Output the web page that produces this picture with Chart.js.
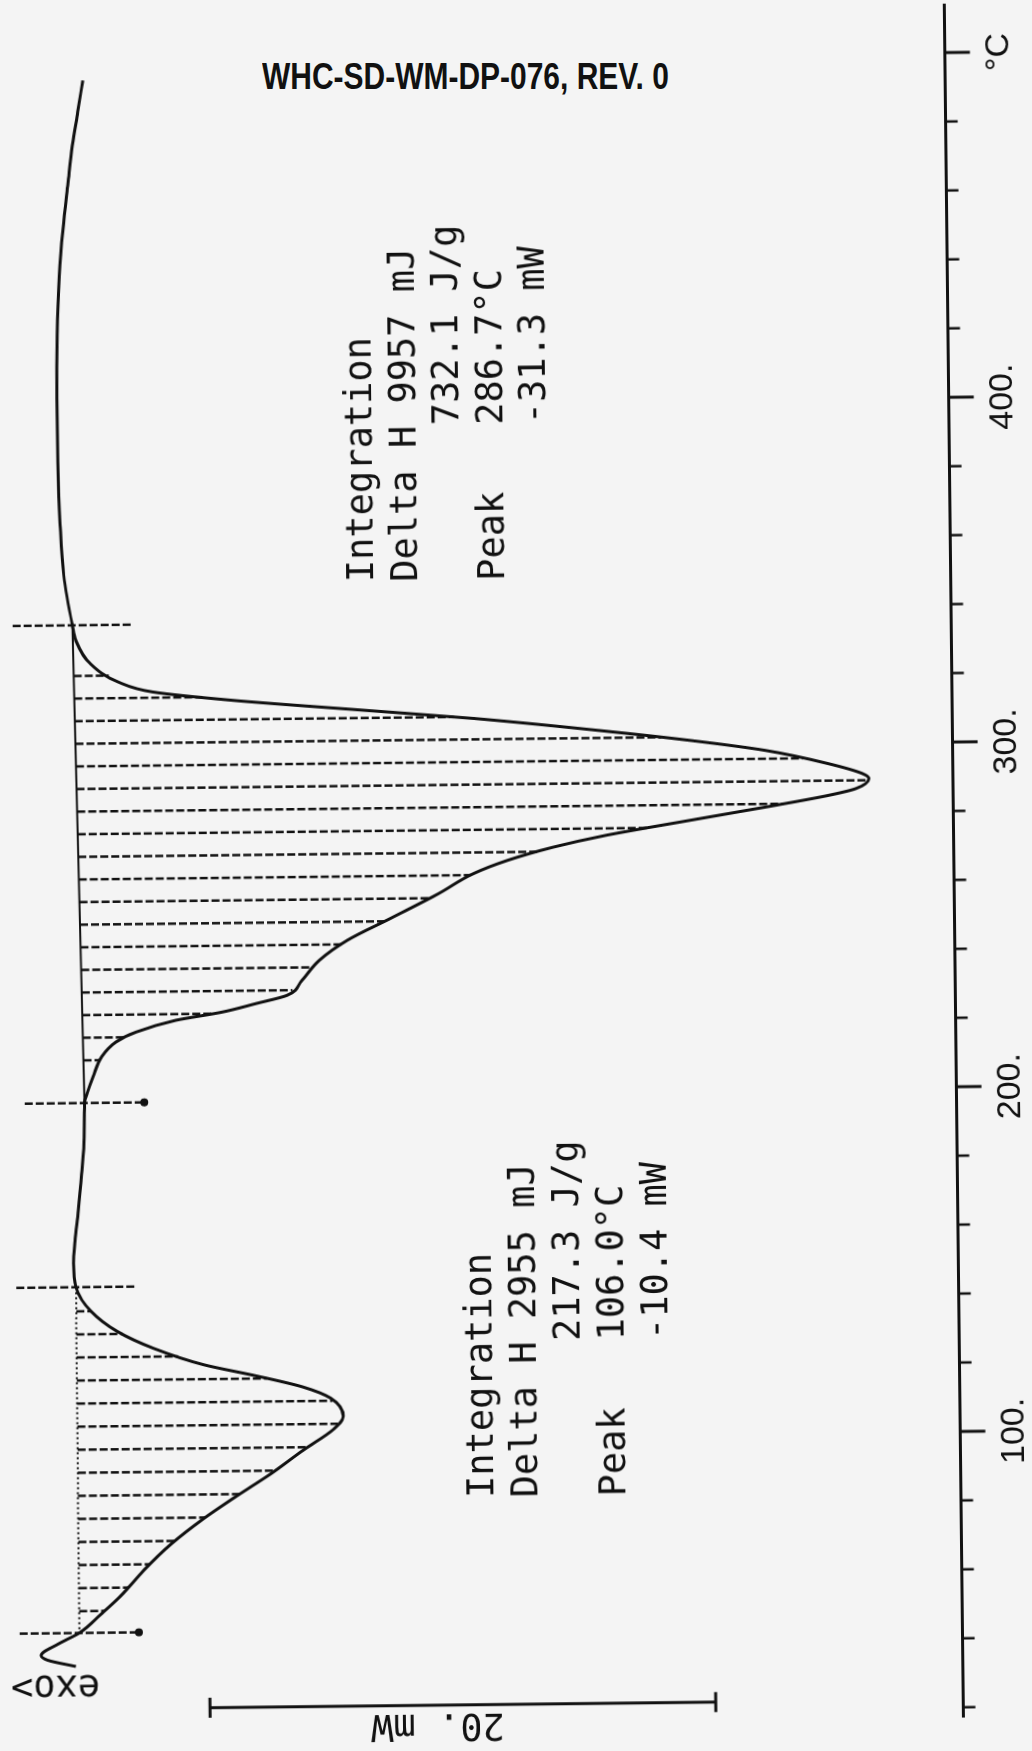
<!DOCTYPE html>
<html>
<head>
<meta charset="utf-8">
<script src="https://cdn.jsdelivr.net/npm/chart.js@4.4.0/dist/chart.umd.min.js"></script>
<style>
  html, body { margin: 0; padding: 0; background: #f4f4f4; }
  body { width: 1032px; height: 1751px; position: relative; overflow: hidden; }
  #header {
    position: absolute; left: 262px; top: 58px;
    font: bold 37px "Liberation Sans", Arial, sans-serif; line-height: 1;
    color: #111; white-space: nowrap;
    transform: scaleX(0.81); transform-origin: left top;
  }
  /* the plot is drawn landscape and turned a quarter turn, like the scanned page */
  #wrap {
    position: absolute; width: 1751px; height: 1032px;
    left: -359.5px; top: 359.5px;
    transform: rotate(-90.64deg); transform-origin: center center;
  }
</style>
</head>
<body>
<div id="header">WHC-SD-WM-DP-076, REV. 0</div>
<div id="wrap"><canvas id="dsc" width="1751" height="1032"></canvas></div>
<script>
// DSC trace: temperature (°C) and heat flow (mW, endotherm negative)
const tempC = [34.7, 36.6, 38.0, 41.2, 44.4, 49.7, 55.0, 62.4, 69.8, 77.2,
  83.6, 89.9, 96.8, 102.6, 106.4, 111.7, 115.0, 118.4, 121.8, 126.7,
  131.8, 137.7, 144.7, 151.7, 158.1, 166.7, 177.4, 188.1, 198.1, 201.0,
  205.7, 211.5, 215.7, 218.5, 221.8, 224.0, 226.4, 228.7, 232.9, 238.7,
  244.4, 251.0, 257.7, 263.4, 267.1, 270.8, 274.0, 277.6, 281.7, 284.9,
  286.8, 289.7, 291.2, 294.2, 298.2, 301.3, 304.5, 308.4, 311.1, 314.4,
  317.1, 320.0, 325.6, 332.3, 336.7, 351.3, 366.0, 384.3, 402.6, 420.9,
  438.0, 451.5, 464.9, 475.9, 485.6, 494.7];
const heatFlowMW = [0.28, 1.39, 1.65, 0.99, 0.13, -0.72, -1.52, -2.45, -3.52, -4.84,
  -6.15, -7.50, -8.82, -10.00, -10.40, -9.91, -8.83, -6.98, -4.91, -2.94,
  -1.49, -0.47, 0.11, 0.20, 0.13, -0.01, -0.16, -0.28, -0.31, -0.42,
  -0.66, -1.01, -1.58, -2.37, -3.95, -5.77, -7.13, -8.37, -8.95, -9.65,
  -10.76, -12.58, -14.40, -15.79, -17.13, -18.95, -21.00, -23.92, -27.33, -29.84,
  -30.94, -31.46, -31.19, -29.83, -27.36, -24.43, -20.81, -15.85, -11.57, -6.37,
  -3.19, -1.86, -0.72, -0.17, -0.04, 0.28, 0.40, 0.46, 0.47, 0.43,
  0.32, 0.16, -0.06, -0.25, -0.48, -0.69];

// integration limits and hatching, first peak then second peak
const peakStartC = [144.7, 336.7];
const peakEndC = [44.4, 198.1];
const hatchFirstC = [137.7, 322.0];
const hatchStepC = [6.69, 6.56];
const hatchCount = [14, 18];

// 20 mW scale bar
const scaleBarC = 22.3;
const scaleBarMW = [-5, -25];

// temperature axis
const tempTicks = [20, 40, 60, 80, 100, 120, 140, 160, 180, 200, 220, 240, 260,
  280, 300, 320, 340, 360, 380, 400, 420, 440, 460, 480, 500];
const majorTicks = [100, 200, 300, 400, 500];
const majorLabels = ['100.', '200.', '300.', '400.', '°C'];

const peak1Notes = ['Integration', 'Delta H 2955 mJ', '       217.3 J/g', 'Peak   106.0°C', '       -10.4 mW'];
const peak2Notes = ['Integration', 'Delta H 9957 mJ', '       732.1 J/g', 'Peak   286.7°C', '       -31.3 mW'];

const ink = '#111';
const mono = '37px "DejaVu Sans Mono", "Liberation Mono", monospace';

function flowAt(t) {
  for (let i = 1; i < tempC.length; i++) {
    if (t <= tempC[i]) {
      const f = (t - tempC[i - 1]) / (tempC[i] - tempC[i - 1]);
      return heatFlowMW[i - 1] + f * (heatFlowMW[i] - heatFlowMW[i - 1]);
    }
  }
  return heatFlowMW[heatFlowMW.length - 1];
}

function seg(points, extra) {
  return Object.assign({
    data: points, showLine: true, borderColor: ink, borderWidth: 2.5,
    pointRadius: 0, fill: false
  }, extra || {});
}

const datasets = [{
  label: 'DSC',
  data: tempC.map((t, i) => ({ x: t, y: heatFlowMW[i] })),
  showLine: true,
  borderColor: ink,
  borderWidth: 3,
  pointRadius: 0,
  cubicInterpolationMode: 'monotone',
  fill: false
}];

peakStartC.forEach((t0, p) => {
  const t1 = peakEndC[p];
  const y0 = flowAt(t0), y1 = flowAt(t1);
  const base = t => y0 + (t - t0) / (t1 - t0) * (y1 - y0);
  // integration baseline
  datasets.push(seg([{ x: t0, y: y0 }, { x: t1, y: y1 }],
    p === 0 ? { borderWidth: 2, borderDash: [2, 3] } : { borderWidth: 2 }));
  // hatching
  for (let k = 0; k < hatchCount[p]; k++) {
    const t = hatchFirstC[p] - k * hatchStepC[p];
    datasets.push(seg([{ x: t, y: base(t) }, { x: t, y: flowAt(t) }], { borderDash: [8, 3] }));
  }
  // limit markers, the end one carries a dot
  [t0, t1].forEach((t, j) => {
    const yc = flowAt(t);
    datasets.push(seg([{ x: t, y: yc + 2.36 }, { x: t, y: yc - 2.36 }], {
      borderDash: [8, 3],
      pointRadius: [0, j === 1 ? 4 : 0],
      pointBackgroundColor: ink,
      pointBorderWidth: 0
    }));
  });
});

// scale bar with end caps
datasets.push(seg([{ x: scaleBarC, y: scaleBarMW[0] }, { x: scaleBarC, y: scaleBarMW[1] }], { borderWidth: 3 }));
scaleBarMW.forEach(v => {
  datasets.push(seg([{ x: scaleBarC - 2.9, y: v }, { x: scaleBarC + 2.9, y: v }], { borderWidth: 3 }));
});

const tickMarks = {
  id: 'tickMarks',
  afterDraw(chart) {
    const { ctx, chartArea } = chart;
    const x = chart.scales.x;
    ctx.save();
    ctx.strokeStyle = ink;
    tempTicks.forEach(t => {
      const px = x.getPixelForValue(t);
      const major = majorTicks.includes(t);
      ctx.lineWidth = major ? 3 : 2.5;
      ctx.beginPath();
      ctx.moveTo(px, chartArea.bottom);
      ctx.lineTo(px, chartArea.bottom + (major ? 25 : 12));
      ctx.stroke();
    });
    ctx.restore();
  }
};

function drawUp(ctx, text, u, v) {
  ctx.save();
  ctx.translate(u, v);
  ctx.rotate(-Math.PI / 2);
  ctx.textAlign = 'center';
  ctx.fillText(text, 0, 0);
  ctx.restore();
}

const notes = {
  id: 'notes',
  afterDraw(chart) {
    const ctx = chart.ctx;
    ctx.save();
    ctx.fillStyle = ink;
    ctx.font = mono;
    ctx.textBaseline = 'alphabetic';
    ctx.textAlign = 'left';
    peak2Notes.forEach((s, i) => ctx.fillText(s, 1171, 376 + 43.5 * i));
    peak1Notes.forEach((s, i) => ctx.fillText(s, 254, 486 + 44 * i));
    drawUp(ctx, 'exo>', 81, 46);
    drawUp(ctx, '20. mW', 38, 428);
    ctx.restore();
  }
};

new Chart(document.getElementById('dsc').getContext('2d'), {
  type: 'scatter',
  data: { datasets },
  options: {
    responsive: false,
    animation: false,
    layout: { padding: { left: 30, right: 9, top: 0, bottom: 0 } },
    plugins: { legend: { display: false }, tooltip: { enabled: false } },
    scales: {
      x: {
        type: 'linear',
        position: 'bottom',
        min: 17.3,
        max: 513.9,
        afterFit: scale => { scale.height = 78.4; },
        afterBuildTicks: scale => { scale.ticks = tempTicks.map(v => ({ value: v })); },
        grid: { display: false, drawTicks: false },
        border: { display: true, color: ink, width: 3 },
        ticks: {
          autoSkip: false,
          maxRotation: 0,
          minRotation: 0,
          padding: 34,
          color: ink,
          font: { family: '"Liberation Sans", Arial, sans-serif', size: 34 },
          callback: v => {
            const i = majorTicks.indexOf(v);
            return i >= 0 ? majorLabels[i] : '';
          }
        }
      },
      y: { display: false, min: -34.79, max: 2.756 }
    }
  },
  plugins: [tickMarks, notes]
});
</script>
</body>
</html>
